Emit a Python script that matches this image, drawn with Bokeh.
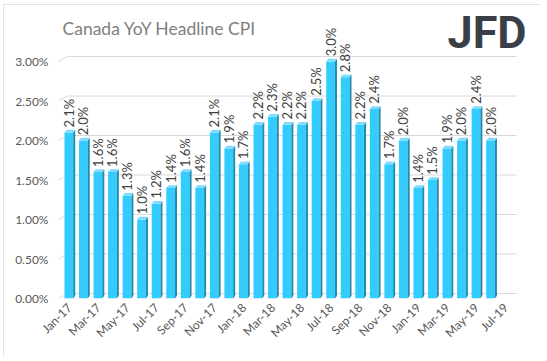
import numpy as np
from bokeh.plotting import figure
from bokeh.models import Range1d, FixedTicker, Label, ColumnDataSource
from bokeh.core.properties import value
from bokeh.embed import file_html
from bokeh.resources import INLINE

# ---- data ----
months = ["Jan-17", "Feb-17", "Mar-17", "Apr-17", "May-17", "Jun-17", "Jul-17", "Aug-17",
          "Sep-17", "Oct-17", "Nov-17", "Dec-17", "Jan-18", "Feb-18", "Mar-18", "Apr-18",
          "May-18", "Jun-18", "Jul-18", "Aug-18", "Sep-18", "Oct-18", "Nov-18", "Dec-18",
          "Jan-19", "Feb-19", "Mar-19", "Apr-19", "May-19", "Jun-19", "Jul-19"]
cpi = [2.1, 2.0, 1.6, 1.6, 1.3, 1.0, 1.2, 1.4, 1.6, 1.4, 2.1, 1.9,
       1.7, 2.2, 2.3, 2.2, 2.2, 2.5, 3.0, 2.8, 2.2, 2.4, 1.7, 2.0,
       1.4, 1.5, 1.9, 2.0, 2.4, 2.0]
y_ticks = [0.0, 0.5, 1.0, 1.5, 2.0, 2.5, 3.0]
y_tick_labels = ["0.00%", "0.50%", "1.00%", "1.50%", "2.00%", "2.50%", "3.00%"]
x_tick_idx = list(range(0, len(months), 2))
x_tick_labels = [months[i] for i in x_tick_idx]
title_text = "Canada YoY Headline CPI"
logo_text = "JFD"

# ---- style ----
FONT = "Lato"
FRONT = "#33ccff"
SIDE = "#1f8db3"
TOP = "#7fdcff"
GRID = "#d9d9d9"
AXIS_TXT = "#595959"

n = len(months)
grid_end = n - 0.25
p = figure(width=538, height=353, output_backend="svg", toolbar_location=None,
           x_range=Range1d(-0.75, 31.57), y_range=Range1d(0, 3.595),
           min_border_left=55, min_border_right=13, min_border_top=10, min_border_bottom=59)
p.styles = {"outline": "1px solid #d9d9d9", "outline-offset": "-1px",
            "margin-left": "3px", "margin-top": "4px"}
p.outline_line_color = None
p.xgrid.grid_line_color = None
p.ygrid.grid_line_color = None
p.background_fill_color = "white"
p.border_fill_color = "white"

# gridlines with a 3D-like slanted start
dz = 0.063
xs_g, ys_g = [], []
for t in y_ticks:
    xs_g.append([-0.75, -0.13, grid_end])
    ys_g.append([t, t + dz, t + dz])
p.multi_line(xs_g, ys_g, line_color=GRID, line_width=1)

# 3D-like bars
idx = np.arange(len(cpi))
v = np.array(cpi)
fl, fr, sd, dh = -0.34, 0.26, 0.14, 0.035
p.quad(left=idx + fl, right=idx + fr, bottom=0, top=v, fill_color=FRONT, line_color=None)
side_xs = [[i + fr, i + fr + sd, i + fr + sd, i + fr] for i in idx]
side_ys = [[0, dh, val + dh, val] for val in v]
p.patches(side_xs, side_ys, fill_color=SIDE, line_color=None)
top_xs = [[i + fl, i + fr, i + fr + sd, i + fl + sd] for i in idx]
top_ys = [[val, val, val + dh, val + dh] for val in v]
p.patches(top_xs, top_ys, fill_color=TOP, line_color=None)

# data labels (vertical)
src = ColumnDataSource(dict(x=idx - 0.04, y=v + 0.065, t=[f"{x:.1f}%" for x in cpi]))
p.text(x="x", y="y", text="t", source=src, angle=np.pi / 2, text_align="left",
       text_baseline="middle", text_font=value(FONT), text_font_size="13px",
       text_color="#404040")

# axes
p.yaxis.ticker = FixedTicker(ticks=y_ticks)
p.yaxis.major_label_overrides = {t: l for t, l in zip(y_ticks, y_tick_labels)}
p.xaxis.ticker = FixedTicker(ticks=x_tick_idx)
p.xaxis.major_label_overrides = {i: l for i, l in zip(x_tick_idx, x_tick_labels)}
p.xaxis.major_label_orientation = np.pi / 4
for ax in (p.xaxis, p.yaxis):
    ax.axis_line_color = None
    ax.major_tick_line_color = None
    ax.minor_tick_line_color = None
    ax.major_tick_out = 0
    ax.major_tick_in = 0
    ax.major_label_text_font = FONT
    ax.major_label_text_font_size = "12px"
    ax.major_label_text_color = AXIS_TXT
p.yaxis.major_label_standoff = 10
p.xaxis.major_label_standoff = 7

# title and logo
p.add_layout(Label(x=-0.475, y=3.42, text=title_text, text_font=FONT, text_font_size="17.5px",
                   text_color="#7f7f7f", text_baseline="alphabetic"))
p.add_layout(Label(x=26.0, y=3.37, text=logo_text, text_font="Roboto", text_font_style="bold",
                   text_font_size="45px", text_color="#3a3f47", text_baseline="alphabetic"))

open("out.html", "w").write(file_html(p, INLINE))
